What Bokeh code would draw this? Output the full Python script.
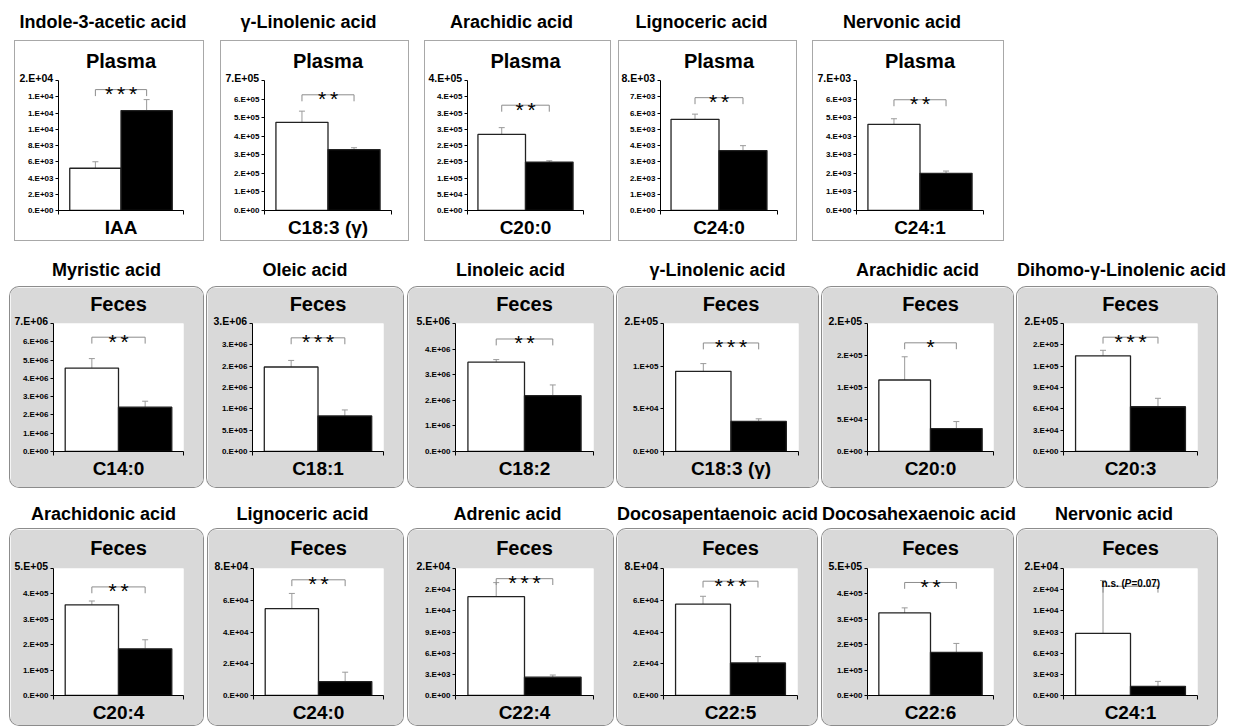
from bokeh.plotting import figure
from bokeh.layouts import row, column
from bokeh.models import Range1d, FixedTicker, Whisker, TeeHead, ColumnDataSource, Div, Spacer, Title
from bokeh.core.properties import value
from bokeh.embed import file_html
from bokeh.resources import INLINE

# ---------------- data ----------------
acid_names = ["Indole-3-acetic acid", "γ-Linolenic acid", "Arachidic acid", "Lignoceric acid", "Nervonic acid",
              "Myristic acid", "Oleic acid", "Linoleic acid", "γ-Linolenic acid", "Arachidic acid",
              "Dihomo-γ-Linolenic acid",
              "Arachidonic acid", "Lignoceric acid", "Adrenic acid", "Docosapentaenoic acid",
              "Docosahexaenoic acid", "Nervonic acid"]
sample_types = ["Plasma"] * 5 + ["Feces"] * 12
categories = ["IAA", "C18:3 (γ)", "C20:0", "C24:0", "C24:1",
              "C14:0", "C18:1", "C18:2", "C18:3 (γ)", "C20:0", "C20:3",
              "C20:4", "C24:0", "C22:4", "C22:5", "C22:6", "C24:1"]
white_mean = [5200, 475000, 234000, 5610, 4640,
              4560000, 1980000, 3490000, 93900, 111700, 134500,
              357000, 54700, 14000, 57500, 325000, 8800]
white_sem = [800, 60000, 21000, 320, 300,
             520000, 155000, 100000, 9100, 36300, 7800,
             15000, 9600, 2000, 5000, 20000, 7500]
black_mean = [12300, 328000, 149000, 3690, 2000,
              2420000, 834000, 2180000, 35200, 35800, 62900,
              183700, 8780, 2600, 20500, 170000, 1300]
black_sem = [1350, 10000, 4000, 300, 125,
             330000, 140000, 420000, 3100, 11000, 11900,
             35700, 5900, 300, 4000, 35000, 700]
significance = ["***", "**", "**", "**", "**",
                "**", "***", "**", "***", "*", "***",
                "**", "**", "***", "***", "**", "n.s."]
p_value_text = ["", "", "", "", "", "", "", "", "", "", "", "", "", "", "", "", "=0.07)"]
y_step = [2000, 100000, 50000, 1000, 1000,
          1000000, 500000, 1000000, 50000, 50000, 30000,
          100000, 20000, 3000, 20000, 100000, 3000]
y_tick_labels = [
    ["0.E+00", "2.E+03", "4.E+03", "6.E+03", "8.E+03", "1.E+04", "1.E+04", "1.E+04", "2.E+04"],
    ["0.E+00", "1.E+05", "2.E+05", "3.E+05", "4.E+05", "5.E+05", "6.E+05", "7.E+05"],
    ["0.E+00", "5.E+04", "1.E+05", "2.E+05", "2.E+05", "3.E+05", "3.E+05", "4.E+05", "4.E+05"],
    ["0.E+00", "1.E+03", "2.E+03", "3.E+03", "4.E+03", "5.E+03", "6.E+03", "7.E+03", "8.E+03"],
    ["0.E+00", "1.E+03", "2.E+03", "3.E+03", "4.E+03", "5.E+03", "6.E+03", "7.E+03"],
    ["0.E+00", "1.E+06", "2.E+06", "3.E+06", "4.E+06", "5.E+06", "6.E+06", "7.E+06"],
    ["0.E+00", "5.E+05", "1.E+06", "2.E+06", "2.E+06", "3.E+06", "3.E+06"],
    ["0.E+00", "1.E+06", "2.E+06", "3.E+06", "4.E+06", "5.E+06"],
    ["0.E+00", "5.E+04", "1.E+05", "2.E+05"],
    ["0.E+00", "5.E+04", "1.E+05", "2.E+05", "2.E+05"],
    ["0.E+00", "3.E+04", "6.E+04", "9.E+04", "1.E+05", "2.E+05", "2.E+05"],
    ["0.E+00", "1.E+05", "2.E+05", "3.E+05", "4.E+05", "5.E+05"],
    ["0.E+00", "2.E+04", "4.E+04", "6.E+04", "8.E+04"],
    ["0.E+00", "3.E+03", "6.E+03", "9.E+03", "1.E+04", "2.E+04", "2.E+04"],
    ["0.E+00", "2.E+04", "4.E+04", "6.E+04", "8.E+04"],
    ["0.E+00", "1.E+05", "2.E+05", "3.E+05", "4.E+05", "5.E+05"],
    ["0.E+00", "3.E+03", "6.E+03", "9.E+03", "1.E+04", "2.E+04", "2.E+04"],
]

# ---------------- layout / style constants ----------------
FONT = "Liberation Sans"
BRACKET_FRAC = [0.93, 0.89, 0.81, 0.868, 0.852,
                0.893, 0.888, 0.879, 0.848, 0.849, 0.893,
                0.855, 0.911, 0.92, 0.9, 0.89, 0.86]
BAR_X = [0.295, 0.705]
BAR_W = 0.41
STAR_PITCH = 12

ROWS = [
    dict(panels=[0, 1, 2, 3, 4], lefts=[15, 221, 425, 619, 813], widths=[188, 187, 185, 177, 190],
         fl=[43, 43, 42, 41, 43], fr=[20, 17, 27, 19, 20], pre=8, title_h=33, title_lh=28,
         title_pad=12, box_h=199, ft=39, fb=28, head_standoff=2),
    dict(panels=[5, 6, 7, 8, 9, 10], lefts=[10, 207, 408, 617, 822, 1017], widths=[193, 196, 205, 201, 191, 200],
         fl=[43, 45, 47, 46, 45, 46], fr=[20] * 6, pre=15, title_h=32, title_lh=30,
         title_pad=0, box_h=200, ft=36, fb=36, head_standoff=2),
    dict(panels=[11, 12, 13, 14, 15, 16], lefts=[10, 208, 408, 617, 822, 1017], widths=[193, 195, 205, 200, 191, 200],
         fl=[43, 45, 47, 46, 45, 46], fr=[20] * 6, pre=11, title_h=31, title_lh=32,
         title_pad=6, box_h=196, ft=39, fb=28, head_standoff=4),
]


def make_panel(i, w, h, fl, fr, ft, fb, title_h, title_lh, title_pad, head_standoff):
    feces = sample_types[i] == "Feces"
    labels = y_tick_labels[i]
    ticks = [int(round(k * y_step[i])) for k in range(len(labels))]
    ymax = ticks[-1]

    p = figure(width=w, height=h, x_range=Range1d(0, 1), y_range=Range1d(0, ymax),
               output_backend="svg", toolbar_location=None, title=sample_types[i],
               min_border_left=fl, min_border_right=fr, min_border_top=ft, min_border_bottom=fb,
               margin=0)
    p.border_fill_color = "#d9d9d9" if feces else "white"
    p.background_fill_color = "white"
    p.outline_line_color = None
    p.grid.visible = False
    p.styles = {
        "border-radius": "9px" if feces else "0px",
        "overflow": "hidden",
        "box-shadow": "0 0 0 1px #8c8c8c" if feces else "0 0 0 1px #a8a8a8",
    }

    p.title.align = "center"
    p.title.text_font = FONT
    p.title.text_font_size = "20px"
    p.title.text_font_style = "bold"
    p.title.text_color = "black"
    p.title.standoff = head_standoff

    # larger top tick label (as in the original), drawn as a small title next to the frame top
    top_lab = Title(text=labels[-1], align="left", offset=-39, standoff=0,
                    text_font=FONT, text_font_size="10.5px", text_font_style="bold",
                    text_color="black")
    try:
        top_lab.standoff = -6
    except Exception:
        pass
    p.add_layout(top_lab, "above")

    # y axis
    ya = p.yaxis[0]
    ya.ticker = FixedTicker(ticks=ticks)
    ov = {t: lab for t, lab in zip(ticks, labels)}
    ov[ticks[-1]] = ""
    ya.major_label_overrides = ov
    ya.major_label_text_font = FONT
    ya.major_label_text_font_size = "8px"
    ya.major_label_text_font_style = "bold"
    ya.major_label_text_color = "black"
    ya.major_label_standoff = 2
    ya.major_tick_out = 3
    ya.major_tick_in = 0
    ya.minor_tick_out = 0
    ya.minor_tick_in = 0
    ya.axis_line_color = "black"
    ya.major_tick_line_color = "black"

    # x axis (single category)
    xa = p.xaxis[0]
    xa.ticker = FixedTicker(ticks=[0, 1])
    xa.major_label_overrides = {0: "", 1: ""}
    xa.major_label_text_font_size = "0px"
    xa.major_label_standoff = 0
    xa.major_tick_out = 4
    xa.major_tick_in = 0
    xa.minor_tick_out = 0
    xa.axis_line_color = "black"
    xa.major_tick_line_color = "black"
    xa.axis_label = categories[i]
    xa.axis_label_standoff = 2
    xa.axis_label_text_font = FONT
    xa.axis_label_text_font_size = "19px"
    xa.axis_label_text_font_style = "bold"
    xa.axis_label_text_color = "black"

    src = ColumnDataSource(dict(
        x=BAR_X,
        top=[white_mean[i], black_mean[i]],
        upper=[white_mean[i] + white_sem[i], black_mean[i] + black_sem[i]],
        fill=["white", "black"],
    ))
    p.vbar(x="x", top="top", bottom=0, width=BAR_W, fill_color="fill", line_color="#222222",
           line_width=1.3, source=src)
    p.add_layout(Whisker(base="x", lower="top", upper="upper", source=src, dimension="height",
                         line_color="#9a9a9a", line_width=1, lower_head=None,
                         upper_head=TeeHead(size=6, line_color="#9a9a9a", line_width=1)))

    # significance bracket
    bt = BRACKET_FRAC[i] * ymax
    leg = bt - 0.05 * ymax
    p.line(x=[BAR_X[0], BAR_X[0], BAR_X[1], BAR_X[1]], y=[leg, bt, bt, leg],
           line_color="#8c8c8c", line_width=1)
    if p_value_text[i]:
        pieces = [(significance[i] + " (", "bold", -29), ("P", "bold italic", -6), (p_value_text[i], "bold", 1)]
        for txt, style, off in pieces:
            p.text(x=[0.5], y=[bt], text=[txt], x_offset=off, y_offset=-3, text_align="left",
                   text_baseline="alphabetic", text_font=value(FONT), text_font_size="10px",
                   text_font_style=style, text_color="black")
    else:
        n = len(significance[i])
        offs = [(k - (n - 1) / 2) * STAR_PITCH for k in range(n)]
        ssrc = ColumnDataSource(dict(x=[0.5] * n, y=[bt] * n, t=list(significance[i]), dx=offs))
        p.text(x="x", y="y", text="t", x_offset="dx", y_offset=4, text_align="center",
               text_baseline="alphabetic", text_font=value(FONT), text_font_size="21px",
               text_color="black", source=ssrc)

    div = Div(text=acid_names[i], width=w, height=title_h, margin=0,
              styles={"font-family": "'Liberation Sans', Arial, sans-serif", "font-weight": "bold",
                      "font-size": "18px", "text-align": "center", "line-height": f"{title_lh}px",
                      "white-space": "nowrap", "color": "black",
                      "padding-right": f"{title_pad}px", "box-sizing": "border-box"})
    return column(div, p, margin=0, spacing=0)


blocks = []
for spec in ROWS:
    if spec["pre"]:
        blocks.append(Spacer(width=10, height=spec["pre"], margin=0))
    items = []
    xpos = 0
    for k, i in enumerate(spec["panels"]):
        gap = spec["lefts"][k] - xpos
        if gap > 0:
            items.append(Spacer(width=gap, height=10, margin=0))
        items.append(make_panel(i, spec["widths"][k], spec["box_h"], spec["fl"][k], spec["fr"][k],
                                spec["ft"], spec["fb"], spec["title_h"], spec["title_lh"],
                                spec["title_pad"], spec["head_standoff"]))
        xpos = spec["lefts"][k] + spec["widths"][k]
    blocks.append(row(items, margin=0, spacing=0))

root = column(blocks, margin=0, spacing=0)

open("out.html", "w").write(file_html(root, INLINE))
